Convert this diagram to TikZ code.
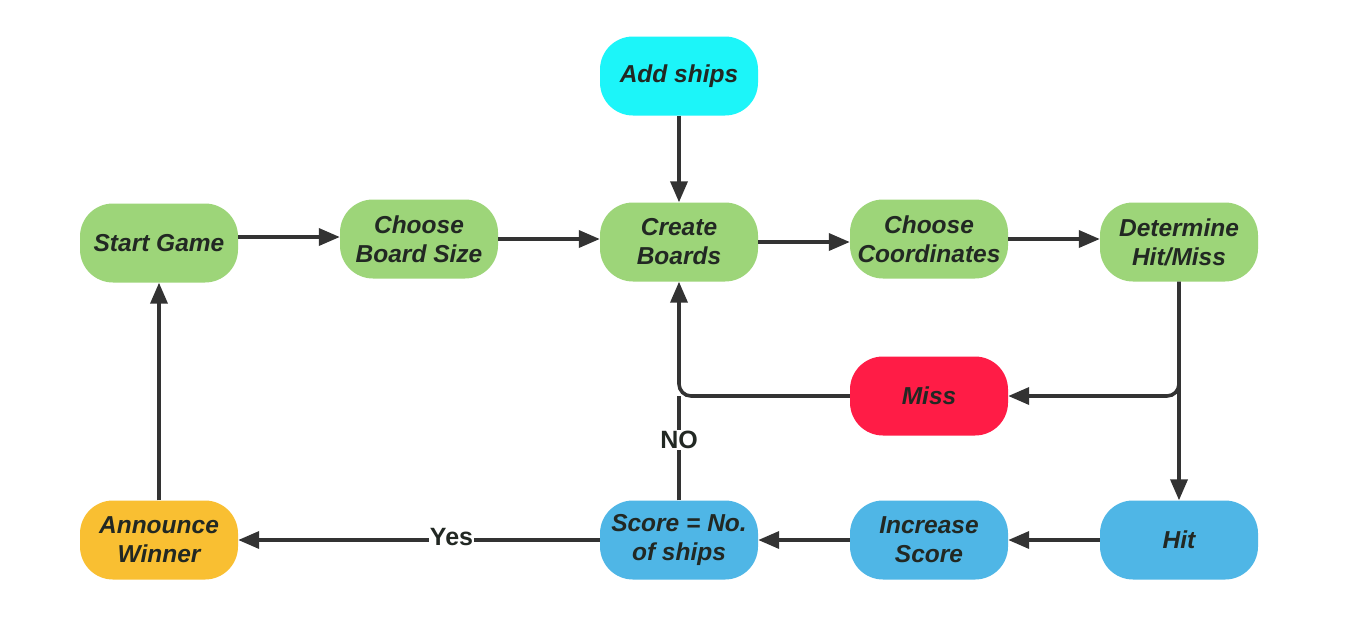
\documentclass[tikz,border=0pt]{standalone}
\usepackage{fontspec}
\setmainfont{Liberation Sans}
\usetikzlibrary{arrows.meta,calc}
\definecolor{cgreen}{HTML}{9DD579}
\definecolor{ccyan}{HTML}{1CF5F9}
\definecolor{cred}{HTML}{FF1C46}
\definecolor{cblue}{HTML}{4FB6E6}
\definecolor{corange}{HTML}{F9BF32}
\definecolor{ctext}{HTML}{222823}
\definecolor{cline}{HTML}{333333}
\tikzset{
  box/.style={rounded corners=33pt, minimum width=158pt, minimum height=79pt, inner sep=0pt,
    align=center, text=ctext, font=\fontsize{24.5}{29}\selectfont\bfseries\itshape},
  conn/.style={line width=3.6pt, draw=cline, -{Triangle[length=21pt,width=17pt]}},
  plain/.style={line width=3.6pt, draw=cline},
  lbl/.style={fill=white, inner sep=1pt, text=ctext, font=\fontsize{25}{28}\selectfont\bfseries}
}
\begin{document}
\begin{tikzpicture}[x=1pt,y=-1pt]
\useasboundingbox (0,0) rectangle (1364,630);
\fill[white] (0,0) rectangle (1364,630);
\node[box, fill=ccyan] (add) at (679,76) {Add ships};
\node[box, fill=cgreen] (start) at (159,243) {Start Game};
\node[box, fill=cgreen] (board) at (419,239) {Choose\\Board Size};
\node[box, fill=cgreen] (create) at (679,242) {Create\\Boards};
\node[box, fill=cgreen] (coord) at (929,239) {Choose\\Coordinates};
\node[box, fill=cgreen] (det) at (1179,242) {Determine\\Hit/Miss};
\node[box, fill=cred] (miss) at (929,396) {Miss};
\node[box, fill=corange] (win) at (159,540) {Announce\\Winner};
\node[box, fill=cblue] (score) at (679,540) {Score = No.\\of ships};
\node[box, fill=cblue] (inc) at (929,540) {Increase\\Score};
\node[box, fill=cblue] (hit) at (1179,540) {Hit};
\coordinate (jm) at (679,396);
\coordinate (jd) at (1179,396);
% arrows
\draw[conn] (add.south) -- (create.north);
\draw[conn] ([yshift=6pt]start.east) -- ([yshift=6pt]start.east -| board.west);
\draw[conn] (board.east) -- (board.east -| create.west);
\draw[conn] (create.east) -- (create.east -| coord.west);
\draw[conn] (coord.east) -- (coord.east -| det.west);
\draw[conn] (det.south) -- (hit.north);
\draw[conn, rounded corners=12pt] (det.south) -- (jd) -- (miss.east);
\draw[conn, rounded corners=12pt] (miss.west) -- (jm) -- (create.south);
\draw[plain] (score.north) -- node[lbl, pos=0.58] (no) {NO} (jm);
\draw[conn] (hit.west) -- (inc.east);
\draw[conn] (inc.west) -- (score.east);
\draw[conn] (score.west) -- node[lbl, pos=0.41, yshift=3pt] (yes) {Yes} (win.east);
\draw[conn] (win.north) -- (start.south);
\end{tikzpicture}
\end{document}
